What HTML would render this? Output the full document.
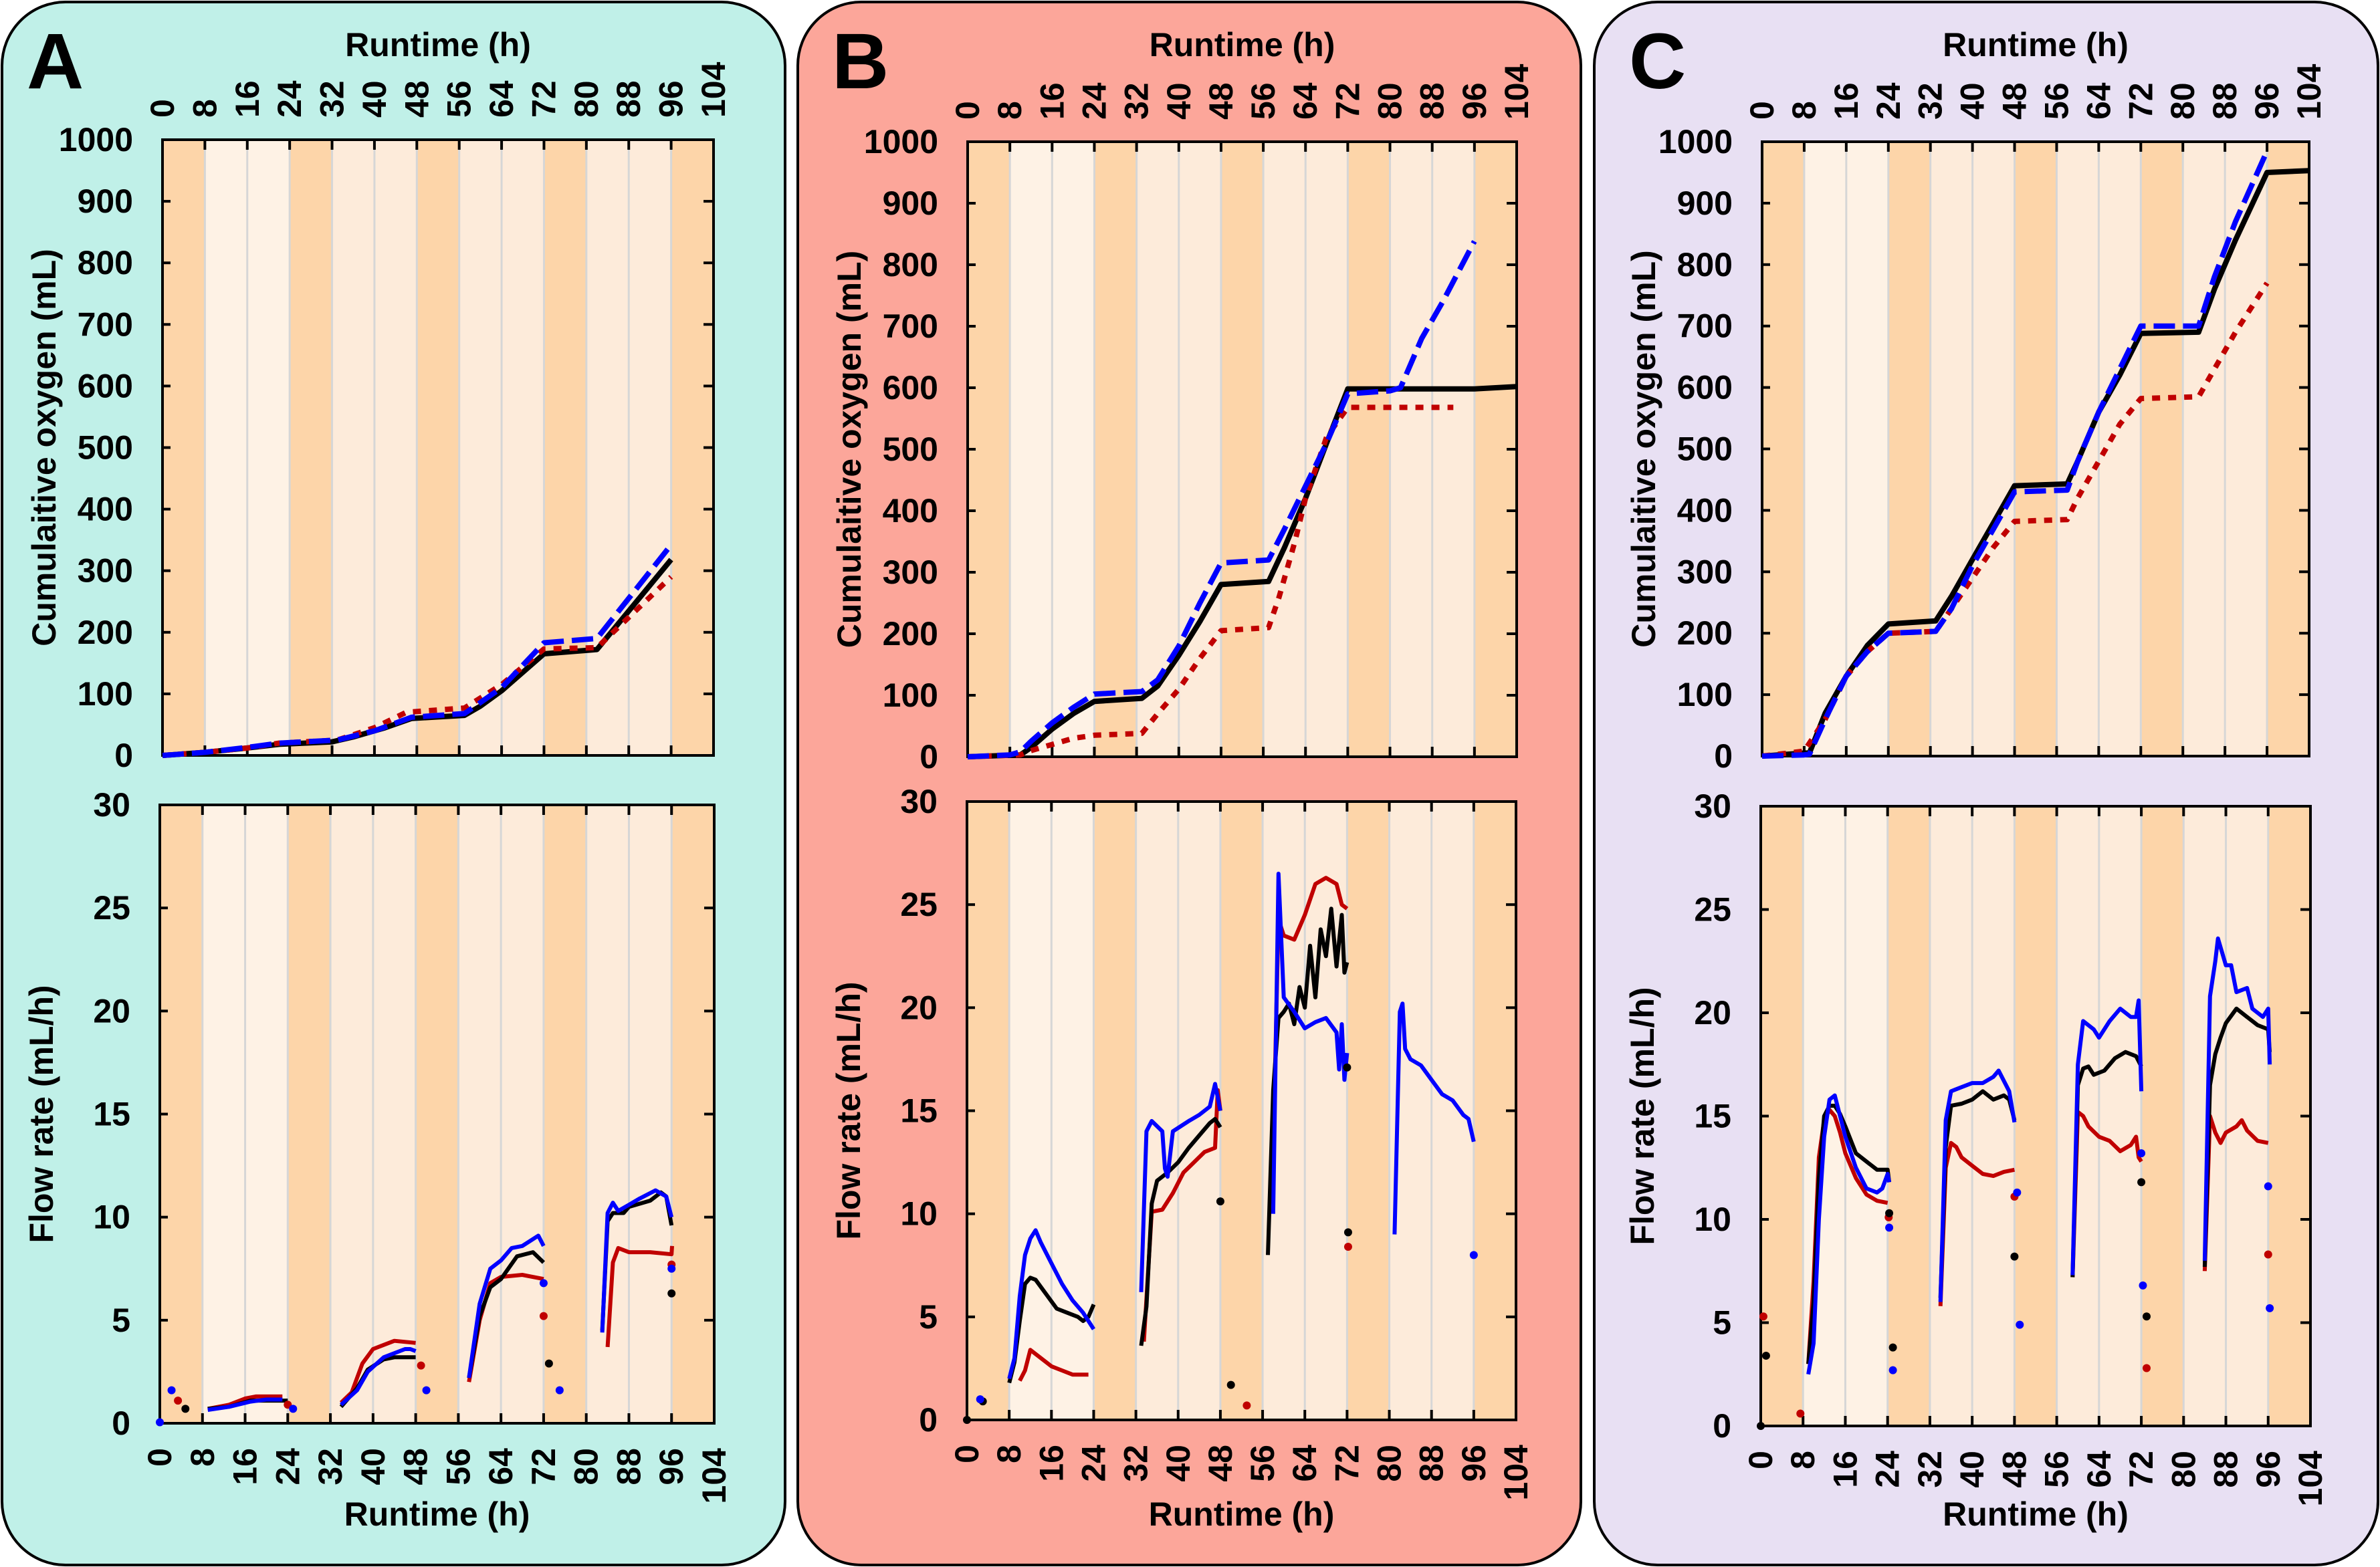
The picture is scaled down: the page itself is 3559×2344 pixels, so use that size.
<!DOCTYPE html>
<html><head><meta charset="utf-8"><title>Cumulative oxygen and flow rate</title>
<style>
html,body{margin:0;padding:0;background:#fff;}
svg{display:block;}
text{font-family:"Liberation Sans",Arial,sans-serif;font-weight:bold;fill:#000;}
</style></head>
<body>
<svg id="fig" width="3559" height="2344" viewBox="0 0 3559 2344" xmlns="http://www.w3.org/2000/svg"></svg>
<script>
// ---------- DATA ----------
const xTicks = [0,8,16,24,32,40,48,56,64,72,80,88,96,104];
const cumTicks = [0,100,200,300,400,500,600,700,800,900,1000];
const flowTicks = [0,5,10,15,20,25,30];
const bandStarts = [0,8,24,32,48,56,72,80,96];
const bandEnds   = [8,24,32,48,56,72,80,96,104];
const bandKinds  = ["dark","light1","dark","light2","dark","light2","dark","light2","dark"];

// Panel A cumulative
const cumA_black = [[0,0],[8,5],[16,12],[22,18],[32,22],[36,30],[42,45],[47,60],[57,65],[60,80],[64,105],[72,165],[82,172],[96,318]];
const cumA_blue  = [[0,0],[8,5],[16,13],[22,20],[33,25],[40,40],[47,62],[57,68],[64,110],[72,183],[82,190],[96,342]];
const cumA_red   = [[0,0],[8,5],[16,12],[22,20],[33,25],[40,45],[46,70],[57,77],[64,115],[72,173],[82,175],[96,290]];
// Panel A flow (segments)
const flowA_black = [[[9,0.7],[13,0.8],[17,1.1],[24,1.1]],[[34,0.8],[37,1.7],[39,2.6],[42,3.1],[44,3.2],[48,3.2]],[[58,2.2],[60,5.2],[62,6.6],[64,7.0],[67,8.1],[70,8.3],[72,7.8]],[[83,4.5],[84,9.8],[85,10.2],[87,10.2],[88,10.5],[92,10.8],[94,11.2],[95,11.0],[96,9.6]]];
const flowA_blue  = [[[9,0.65],[13,0.8],[17,1.05],[20,1.15],[23,1.15]],[[34,0.9],[37,1.6],[39,2.5],[42,3.2],[46,3.6],[47,3.6],[48,3.5]],[[58,2.2],[60,5.8],[62,7.5],[64,7.9],[66,8.5],[68,8.6],[71,9.1],[72,8.6]],[[83,4.4],[84,10.2],[85,10.7],[86,10.3],[88,10.6],[90,10.9],[93,11.3],[95,11.0],[96,10.0]]];
const flowA_red   = [[[9,0.7],[13,0.9],[16,1.2],[18,1.3],[23,1.3]],[[34,1.0],[36,1.5],[38,2.9],[40,3.6],[42,3.8],[44,4.0],[48,3.9]],[[58,2.0],[60,5.0],[62,6.8],[64,7.1],[68,7.2],[72,7.0]],[[84,3.7],[85,7.8],[86,8.5],[88,8.3],[92,8.3],[96,8.2],[96.1,8.6]]];
const ptsA_blue  = [[0,0.05],[2.2,1.6],[25,0.7],[50,1.6],[72,6.8],[75,1.6],[96,7.5]];
const ptsA_red   = [[3.4,1.1],[24,0.9],[49,2.8],[72,5.2],[96,7.7]];
const ptsA_black = [[4.8,0.7],[73,2.9],[96,6.3]];

// Panel B cumulative
const cumB_black = [[0,0],[10,3],[12,15],[16,45],[20,70],[24,90],[33,95],[36,115],[40,165],[44,220],[48,280],[57,285],[60,340],[64,420],[68,510],[72,598],[80,598],[96,598],[104,602]];
const cumB_blue  = [[0,0],[8,3],[10,8],[12,25],[16,55],[20,80],[24,102],[33,106],[36,125],[40,180],[44,250],[48,315],[57,320],[60,370],[64,440],[68,510],[72,590],[80,595],[82,600],[86,680],[90,740],[96,838]];
const cumB_red   = [[0,0],[10,3],[12,10],[16,20],[20,30],[24,35],[33,38],[36,70],[40,110],[44,160],[48,205],[57,210],[59,260],[62,350],[64,420],[68,520],[72,568],[92,568]];
// Panel B flow
const flowB_blue  = [[[8,2.0],[9,3.0],[10,6.0],[11,8.0],[12,8.8],[13,9.2],[14,8.6],[16,7.6],[18,6.6],[20,5.8],[22,5.2],[23,4.8],[24,4.4]],[[33,6.2],[34,14.0],[35,14.5],[37,14.0],[37.5,12.2],[38,11.8],[39,14.0],[42,14.5],[44,14.8],[46,15.2],[47,16.3],[48,15.0]],[[58,10],[59,26.5],[60,20.5],[62,19.8],[64,19.0],[66,19.3],[68,19.5],[70,18.8],[70.5,17.0],[71,19.2],[71.5,16.5],[72,17.8]],[[81,9],[82,19.8],[82.5,20.2],[83,18.0],[84,17.5],[86,17.2],[88,16.5],[90,15.8],[92,15.5],[94,14.8],[95,14.6],[96,13.5]]];
const flowB_red   = [[[10,1.9],[11,2.4],[12,3.4],[14,3.0],[16,2.6],[18,2.4],[20,2.2],[23,2.2]],[[33.5,3.8],[35,10.1],[37,10.2],[39,11.0],[41,12.0],[43,12.5],[45,13.0],[47,13.2],[47.5,16.0],[48,15.0]],[[58,13],[59,24.3],[60,23.5],[62,23.3],[64,24.5],[66,26.0],[68,26.3],[70,26.0],[71,25.0],[72,24.8]]];
const flowB_black = [[[8,1.8],[9,2.8],[10,4.8],[11,6.6],[12,6.9],[13,6.8],[15,6.1],[17,5.4],[19,5.2],[21,5.0],[22,4.8],[23,5.0],[24,5.6]],[[33,3.6],[34,5.5],[35,10.5],[36,11.6],[38,12.0],[40,12.5],[42,13.2],[44,13.8],[46,14.4],[47,14.6],[48,14.2]],[[57,8],[58,16],[59,19.5],[60,19.8],[61,20.2],[62,19.2],[63,21.0],[64,20.0],[65,23],[66,20.5],[67,23.8],[68,22.5],[69,24.8],[70,22],[71,24.5],[71.5,21.7],[72,22.2]]];
const ptsB_black = [[0,0],[3,0.9],[48,10.6],[50,1.7],[72,17.1],[72.2,9.1]];
const ptsB_blue  = [[2.5,1.0],[96,8.0]];
const ptsB_red   = [[53,0.7],[72.2,8.4]];

// Panel C cumulative
const cumC_black = [[0,0],[8,5],[9,5],[12,70],[16,130],[20,180],[24,215],[33,220],[36,260],[40,320],[44,380],[48,440],[58,443],[60,480],[64,560],[68,620],[72,688],[83,690],[86,760],[90,840],[96,950],[104,953]];
const cumC_blue  = [[0,0],[8,2],[9,3],[12,60],[16,130],[20,170],[24,200],[33,203],[36,240],[40,310],[44,370],[48,430],[58,433],[60,480],[64,560],[68,630],[72,700],[83,700],[86,780],[90,870],[96,985]];
const cumC_red   = [[0,0],[8,8],[12,60],[16,130],[20,170],[24,200],[33,203],[36,240],[40,290],[44,340],[48,382],[58,385],[60,420],[64,480],[68,540],[72,582],[83,585],[86,630],[90,690],[96,770]];
// Panel C flow
const flowC_blue  = [[[9,2.5],[10,4],[11,10],[12,14],[13,15.8],[14,16.0],[15,15.0],[16,14.0],[18,12.5],[20,11.5],[22,11.3],[23,11.5],[24,12.2],[24.3,11.8]],[[34,6.0],[35,14.8],[36,16.2],[38,16.4],[40,16.6],[42,16.6],[44,16.9],[45,17.2],[47,16.2],[48,14.7]],[[59,7.3],[60,17.5],[61,19.6],[63,19.2],[64,18.8],[66,19.6],[68,20.2],[70,19.8],[71,19.8],[71.5,20.6],[72,16.2]],[[84,8],[85,20.8],[86,22.5],[86.5,23.6],[88,22.3],[89,22.3],[90,21.0],[92,21.2],[93,20.2],[95,19.8],[96,20.2],[96.3,17.5]]];
const flowC_red   = [[[9,3.0],[10,7],[11,13],[12,14.8],[13,15.3],[14,15.0],[15,14.2],[16,13.2],[18,12.0],[20,11.2],[22,10.9],[24,10.8]],[[34,5.8],[35,12.5],[36,13.7],[37,13.5],[38,13.0],[40,12.6],[42,12.2],[44,12.1],[46,12.3],[48,12.4]],[[59,7.2],[60,15.2],[61,15.0],[62,14.5],[64,14.0],[66,13.8],[68,13.3],[70,13.6],[71,14.0],[71.5,13.0],[72,12.8]],[[84,7.5],[85,15.0],[86,14.2],[87,13.7],[88,14.2],[90,14.5],[91,14.8],[92,14.3],[94,13.8],[96,13.7]]];
const flowC_black = [[[9,3.0],[10,6],[11,12],[12,15.0],[13,15.5],[14,15.5],[15,15.1],[16,14.5],[18,13.2],[20,12.8],[22,12.4],[24,12.4],[24.3,11.8]],[[34,6.2],[35,13.5],[36,15.5],[38,15.6],[40,15.8],[42,16.2],[44,15.8],[46,16.0],[47,15.8],[48,14.8]],[[59,7.2],[60,16.5],[61,17.3],[62,17.4],[63,17.0],[65,17.2],[67,17.8],[69,18.1],[71,17.9],[72,17.4]],[[84,7.7],[85,16.5],[86,18.0],[87,18.8],[88,19.5],[90,20.2],[92,19.8],[94,19.4],[96,19.2],[96.3,18.1]]];
const ptsC_red   = [[0.5,5.3],[7.5,0.6],[24.2,10.1],[48,11.1],[73,2.8],[96,8.3]];
const ptsC_black = [[0,0],[1,3.4],[24.3,10.3],[25,3.8],[48,8.2],[72,11.8],[73,5.3]];
const ptsC_blue  = [[24.3,9.6],[25,2.7],[48.5,11.3],[49,4.9],[72,13.2],[72.3,6.8],[96,11.6],[96.3,5.7]];

// ---------- LAYOUT ----------
const NS = "http://www.w3.org/2000/svg";
const svg = document.getElementById("fig");
function mk(tag, attrs, parent){
  const e = document.createElementNS(NS, tag);
  for (const k in attrs) e.setAttribute(k, attrs[k]);
  (parent||svg).appendChild(e);
  return e;
}
const BAND = {dark:"#fdd5a9", light1:"#fef2e5", light2:"#fdebda"};
const COL = {black:"#000000", blue:"#0000ff", red:"#c00000"};

const panels = [
  {id:"a", letter:"A", bg:"#c0f0e8", box:[3,3,1171,2338], letterX:40,
   top:{x0:243,x1:1067,y0:209,y1:1130}, bot:{x0:239,x1:1068,y0:1204,y1:2129},
   cum:{black:cumA_black, blue:cumA_blue, red:cumA_red},
   flow:{red:flowA_red, black:flowA_black, blue:flowA_blue},
   pts:{red:ptsA_red, black:ptsA_black, blue:ptsA_blue}},
  {id:"b", letter:"B", bg:"#fca69a", box:[1193,3,1171,2338], letterX:1244,
   top:{x0:1447,x1:2268,y0:212,y1:1132}, bot:{x0:1446,x1:2267,y0:1199,y1:2124},
   cum:{black:cumB_black, blue:cumB_blue, red:cumB_red},
   flow:{red:flowB_red, black:flowB_black, blue:flowB_blue},
   pts:{red:ptsB_red, black:ptsB_black, blue:ptsB_blue}},
  {id:"c", letter:"C", bg:"#e8e0f3", box:[2384,3,1172,2338], letterX:2436,
   top:{x0:2635,x1:3453,y0:212,y1:1131}, bot:{x0:2633,x1:3455,y0:1206,y1:2133},
   cum:{black:cumC_black, blue:cumC_blue, red:cumC_red},
   flow:{red:flowC_red, black:flowC_black, blue:flowC_blue},
   pts:{red:ptsC_red, black:ptsC_black, blue:ptsC_blue}}
];

function axes(r, ymax){
  return {
    x: t => r.x0 + (r.x1 - r.x0) * t / 104,
    y: v => r.y1 - (r.y1 - r.y0) * v / ymax
  };
}
function pathD(pts, sx, sy){
  return pts.map((p,i)=>(i?"L":"M")+sx(p[0]).toFixed(1)+" "+sy(p[1]).toFixed(1)).join(" ");
}

function drawPlot(g, r, ymax, yticks, kind, pid){
  const {x, y} = axes(r, ymax);
  for (let i=0;i<bandStarts.length;i++){
    const b = mk("rect",{x:x(bandStarts[i]),y:r.y0,width:x(bandEnds[i])-x(bandStarts[i]),height:r.y1-r.y0,fill:BAND[bandKinds[i]]},g);
    
    
  }
  for (const t of xTicks){
    if (t===0||t===104) continue;
    const gl = mk("line",{x1:x(t),x2:x(t),y1:r.y0,y2:r.y1,stroke:"#d6d6d6","stroke-width":3},g);
    
    
  }
  const fr = mk("rect",{x:r.x0,y:r.y0,width:r.x1-r.x0,height:r.y1-r.y0,fill:"none",stroke:"#000","stroke-width":4},g);
  
  
  for (const t of xTicks){
    mk("line",{x1:x(t),x2:x(t),y1:r.y0,y2:r.y0+15,stroke:"#000","stroke-width":4},g);
    mk("line",{x1:x(t),x2:x(t),y1:r.y1,y2:r.y1-15,stroke:"#000","stroke-width":4},g);
  }
  for (const v of yticks){
    mk("line",{x1:r.x1,x2:r.x1-15,y1:y(v),y2:y(v),stroke:"#000","stroke-width":4},g);
    mk("line",{x1:r.x0,x2:r.x0+12,y1:y(v),y2:y(v),stroke:"#000","stroke-width":4},g);
    const tl = mk("text",{x:r.x0-44,y:y(v)+17,"text-anchor":"end","font-size":50},g);
    tl.textContent = v;
    
    
  }
  const yt = mk("text",{x:0,y:0,"text-anchor":"middle","font-size":50,transform:`translate(${r.x0-160},${(r.y0+r.y1)/2}) rotate(-90)`},g);
  yt.textContent = kind==="cum" ? "Cumulaitive oxygen (mL)" : "Flow rate (mL/h)";
  
  
  for (const t of xTicks){
    let tl;
    if (kind==="cum"){
      tl = mk("text",{x:0,y:0,"text-anchor":"start","font-size":50,transform:`translate(${x(t)+17},${r.y0-33}) rotate(-90)`},g);
    } else {
      tl = mk("text",{x:0,y:0,"text-anchor":"end","font-size":50,transform:`translate(${x(t)+17},${r.y1+37}) rotate(-90)`},g);
    }
    tl.textContent = t;
    
    
  }
  const xt = mk("text",{x:(r.x0+r.x1)/2,y: kind==="cum" ? 84 : 2282,"text-anchor":"middle","font-size":50},g);
  xt.textContent = "Runtime (h)";
  
  
  return {x, y};
}

for (const p of panels){
  const g = mk("g",{});
  
  
  const bx = mk("rect",{x:p.box[0],y:p.box[1],width:p.box[2],height:p.box[3],rx:95,ry:95,fill:p.bg,stroke:"#000","stroke-width":4},g);
  
  
  const lt = mk("text",{x:p.letterX,y:132,"font-size":118},g);
  lt.textContent = p.letter;
  
  

  const gc = mk("g",{},g);
  
  
  const ac = drawPlot(gc, p.top, 1000, cumTicks, "cum", p.id);
  const cumStyles = {
    red:{stroke:COL.red,"stroke-width":8,"stroke-dasharray":"12 12"},
    blue:{stroke:COL.blue,"stroke-width":8,"stroke-dasharray":"32 12"},
    black:{stroke:COL.black,"stroke-width":8}
  };
  for (const s of ["black","red","blue"]){
    const attrs = Object.assign({d:pathD(p.cum[s], ac.x, ac.y), fill:"none","stroke-linejoin":"round"}, cumStyles[s]);
    const ln = mk("path", attrs, gc);
    
    
  }

  const gf = mk("g",{},g);
  
  
  const af = drawPlot(gf, p.bot, 30, flowTicks, "flow", p.id);
  for (const s of ["red","black","blue"]){
    for (const seg of p.flow[s]){
      const ln = mk("path",{d:pathD(seg, af.x, af.y), fill:"none", stroke:COL[s], "stroke-width":6, "stroke-linejoin":"round"}, gf);
      
      
    }
  }
  for (const s of ["red","black","blue"]){
    for (const pt of p.pts[s]){
      const c = mk("circle",{cx:af.x(pt[0]), cy:af.y(pt[1]), r:6, fill:COL[s]}, gf);
      
      
    }
  }
}
</script>
</body></html>
